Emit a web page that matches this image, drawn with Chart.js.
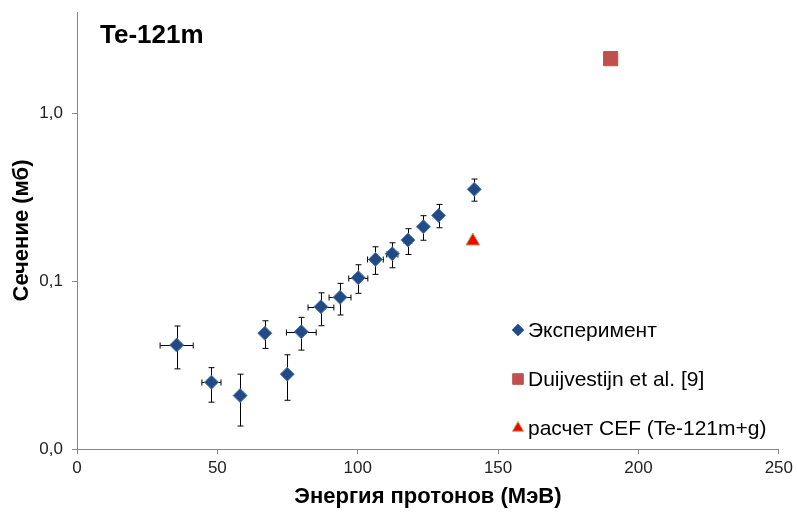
<!DOCTYPE html>
<html>
<head>
<meta charset="utf-8">
<script src="https://cdn.jsdelivr.net/npm/chart.js@4.4.1/dist/chart.umd.min.js"></script>
<style>
  html, body { margin: 0; padding: 0; background: #fff; }
  #wrap { width: 797px; height: 516px; }
</style>
</head>
<body>
<div id="wrap"><canvas id="chart1" width="797" height="516"></canvas></div>
<script>
const FONT = '"Liberation Sans", Arial, sans-serif';

// Эксперимент: энергия (МэВ), сечение (мб) и погрешности
const ENERGY     = [35.5, 47.9, 58.1, 66.9, 74.9, 79.9, 86.9, 93.7, 100.2, 106.3, 112.3, 117.9, 123.4, 128.8, 141.5];
const ENERGY_ERR = [5.9, 3.4, 0, 0, 0, 5.3, 4.6, 3.9, 3.4, 2.8, 2.0, 1.5, 1.0, 0, 0];
const XS         = [0.0416, 0.0250, 0.0208, 0.0489, 0.0279, 0.0499, 0.0703, 0.080, 0.1047, 0.1346, 0.1455, 0.1754, 0.2105, 0.246, 0.3515];
const XS_HI      = [0.054, 0.0305, 0.0279, 0.058, 0.0364, 0.0608, 0.0851, 0.0969, 0.125, 0.160, 0.169, 0.205, 0.245, 0.286, 0.405];
const XS_LO      = [0.030, 0.019, 0.0137, 0.0397, 0.0195, 0.0388, 0.0542, 0.0628, 0.0845, 0.1096, 0.120, 0.144, 0.175, 0.2077, 0.299];

const DUIJ_E  = [190.1];
const DUIJ_XS = [2.11];
const CEF_E   = [141];
const CEF_XS  = [0.173];

const X_TICKS = [0, 50, 100, 150, 200, 250];
const Y_TICKS = [0.01, 0.1, 1];
const Y_LABELS = { 0.01: '0,0', 0.1: '0,1', 1: '1,0' };

const toPts = (xs, ys) => xs.map((x, i) => ({ x: x, y: ys[i] }));

// error bars drawn behind the markers
const errorBars = {
  id: 'errorBars',
  beforeDatasetsDraw(chart) {
    const { ctx, scales: { x, y } } = chart;
    const cap = 3;
    ctx.save();
    ctx.strokeStyle = '#000';
    ctx.lineWidth = 1;
    ENERGY.forEach((e, i) => {
      const px = Math.round(x.getPixelForValue(e)) + 0.5;
      const py = Math.round(y.getPixelForValue(XS[i])) + 0.5;
      const yh = y.getPixelForValue(XS_HI[i]);
      const yl = y.getPixelForValue(XS_LO[i]);
      ctx.beginPath();
      ctx.moveTo(px, yh); ctx.lineTo(px, yl);
      ctx.moveTo(px - cap, yh); ctx.lineTo(px + cap, yh);
      ctx.moveTo(px - cap, yl); ctx.lineTo(px + cap, yl);
      if (ENERGY_ERR[i] > 0) {
        const xl = x.getPixelForValue(e - ENERGY_ERR[i]);
        const xr = x.getPixelForValue(e + ENERGY_ERR[i]);
        ctx.moveTo(xl, py); ctx.lineTo(xr, py);
        ctx.moveTo(xl, py - cap); ctx.lineTo(xl, py + cap);
        ctx.moveTo(xr, py - cap); ctx.lineTo(xr, py + cap);
      }
      ctx.stroke();
    });
    ctx.restore();
  }
};

// title label and legend inside the plot area
const overlay = {
  id: 'overlay',
  afterDraw(chart) {
    const ctx = chart.ctx;
    ctx.save();
    ctx.fillStyle = '#000';
    ctx.font = 'bold 26px ' + FONT;
    ctx.textBaseline = 'alphabetic';
    ctx.fillText('Te-121m', 100, 43);

    const rows = [330, 379, 428];
    ctx.font = '21px ' + FONT;
    ctx.textBaseline = 'middle';
    chart.data.datasets.forEach((ds, i) => {
      const y = rows[i];
      ctx.fillStyle = ds.backgroundColor;
      ctx.strokeStyle = ds.borderColor;
      ctx.lineWidth = 1;
      Chart.helpers.drawPoint(ctx, {
        pointStyle: ds.pointStyle,
        radius: ds.legendRadius,
        rotation: 0,
        borderWidth: 1
      }, 518, y);
      ctx.fillStyle = '#000';
      ctx.fillText(ds.label, 528, y + 1);
    });
    ctx.restore();
  }
};

const chart1 = new Chart(document.getElementById('chart1'), {
  type: 'scatter',
  data: {
    datasets: [
      {
        label: 'Эксперимент',
        data: toPts(ENERGY, XS),
        pointStyle: 'rectRot',
        pointRadius: 7,
        legendRadius: 6,
        backgroundColor: '#234A85',
        borderColor: '#4A7EBB',
        borderWidth: 1,
      },
      {
        label: 'Duijvestijn et al. [9]',
        data: toPts(DUIJ_E, DUIJ_XS),
        pointStyle: 'rect',
        pointRadius: 10,
        legendRadius: 7.5,
        backgroundColor: '#C0504D',
        borderColor: '#C0504D',
        borderWidth: 1,
      },
      {
        label: 'расчет CEF (Te-121m+g)',
        data: toPts(CEF_E, CEF_XS),
        pointStyle: 'triangle',
        pointRadius: 8,
        legendRadius: 6.5,
        backgroundColor: '#FF0000',
        borderColor: '#9BBB59',
        borderWidth: 1,
      }
    ]
  },
  options: {
    responsive: false,
    animation: false,
    events: [],
    layout: { padding: { top: 12, right: 17, left: 0, bottom: 0 } },
    plugins: {
      legend: { display: false },
      tooltip: { enabled: false }
    },
    scales: {
      x: {
        type: 'linear',
        min: 0,
        max: 250,
        afterBuildTicks: s => { s.ticks = X_TICKS.map(v => ({ value: v })); },
        afterFit: s => { s.height = 67; },
        grid: { drawOnChartArea: false, tickLength: 5, color: '#868686' },
        border: { color: '#868686', width: 1 },
        ticks: { color: '#222', padding: 4, font: { family: FONT, size: 17 } },
        title: {
          display: true,
          text: 'Энергия протонов (МэВ)',
          color: '#000',
          font: { family: FONT, size: 22, weight: 'bold' },
          padding: { top: 0, bottom: 6 }
        }
      },
      y: {
        type: 'logarithmic',
        min: 0.01,
        max: 4,
        afterBuildTicks: s => { s.ticks = Y_TICKS.map(v => ({ value: v })); },
        afterFit: s => { s.width = 77; s.paddingTop = 0; s.paddingBottom = 0; },
        grid: { drawOnChartArea: false, tickLength: 5, color: '#868686' },
        border: { color: '#868686', width: 1 },
        ticks: {
          color: '#222',
          padding: 9,
          font: { family: FONT, size: 17 },
          callback: v => Y_LABELS[v] !== undefined ? Y_LABELS[v] : ''
        },
        title: {
          display: true,
          text: 'Сечение (мб)',
          color: '#000',
          font: { family: FONT, size: 22, weight: 'bold' },
          padding: { top: 9, bottom: 0 }
        }
      }
    }
  },
  plugins: [errorBars, overlay]
});
</script>
</body>
</html>
